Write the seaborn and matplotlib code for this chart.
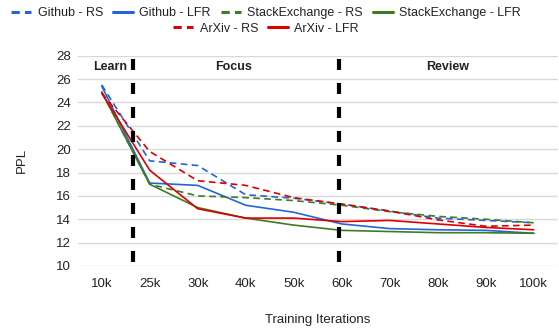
import numpy as np
import pandas as pd
import matplotlib
matplotlib.use("Agg")
import matplotlib.pyplot as plt
import seaborn as sns
from matplotlib.lines import Line2D

iterations = ["10k", "25k", "30k", "40k", "50k", "60k", "70k", "80k", "90k", "100k"]
github_rs = [25.5, 19.0, 18.6, 16.1, 15.8, 15.3, 14.7, 14.1, 13.9, 13.7]
github_lfr = [25.4, 17.1, 16.9, 15.2, 14.6, 13.6, 13.2, 13.1, 13.05, 12.8]
stack_rs = [24.9, 17.0, 16.0, 15.85, 15.6, 15.2, 14.65, 14.25, 14.0, 13.7]
stack_lfr = [24.9, 17.0, 15.0, 14.1, 13.5, 13.05, 12.95, 12.85, 12.85, 12.8]
arxiv_rs = [24.8, 19.8, 17.3, 16.9, 15.85, 15.3, 14.7, 13.95, 13.4, 13.5]
arxiv_lfr = [24.8, 18.2, 14.9, 14.1, 14.1, 13.8, 13.9, 13.6, 13.3, 13.1]

phases = ["Learn", "Focus", "Review"]

series = [
    ("Github", "RS", github_rs),
    ("Github", "LFR", github_lfr),
    ("StackExchange", "RS", stack_rs),
    ("StackExchange", "LFR", stack_lfr),
    ("ArXiv", "RS", arxiv_rs),
    ("ArXiv", "LFR", arxiv_lfr),
]

rows = []
for ds, m, vals in series:
    for i, v in enumerate(vals):
        rows.append({"pos": i, "PPL": v, "dataset": ds, "method": m})
df = pd.DataFrame(rows)

colors = {"Github": "#2266d8", "StackExchange": "#3f7b22", "ArXiv": "#dd0000"}
dash_map = {"RS": (4, 2.6), "LFR": ""}

sns.set_theme(style="white")
plt.rcParams["font.family"] = ["Liberation Sans", "DejaVu Sans"]
txt = "#222222"

fig = plt.figure(figsize=(5.59, 3.29), dpi=100)
ax = fig.add_axes([0.139, 0.1915, 0.8587, 0.6392])

sns.lineplot(data=df, x="pos", y="PPL", hue="dataset", style="method",
             palette=colors, dashes=dash_map, linewidth=1.2, ax=ax,
             legend=False, units=None, estimator=None)

ax.set_xlim(-0.5, len(iterations) - 0.5)
ax.set_ylim(10, 28)
ax.set_yticks(np.arange(10, 29, 2))
ax.set_xticks(range(len(iterations)))
ax.set_xticklabels(iterations)
ax.grid(axis="y", color="#d9d9d9", linewidth=1)
ax.grid(axis="x", visible=False)
ax.set_axisbelow(True)
for s in ax.spines.values():
    s.set_visible(False)
ax.tick_params(axis="both", length=0, labelsize=9.5, colors=txt, pad=9)
ax.tick_params(axis="y", pad=5)
ax.set_xlabel("Training Iterations", fontsize=9.5, color=txt, labelpad=17)
ax.set_ylabel("PPL", fontsize=9.5, color=txt, labelpad=20)

# phase separators, dash pattern starting from the top
for xv in (0.65, 4.95):
    ax.axvline(xv, ymin=0.984, ymax=0.018, color="black", linewidth=3,
               dashes=(2.64, 3.12))

ax.text(0.17, 27.0, phases[0], ha="center", va="center", fontsize=9,
        fontweight="bold", color=txt)
ax.text(2.74, 27.0, phases[1], ha="center", va="center", fontsize=9,
        fontweight="bold", color=txt)
ax.text(7.2, 27.0, phases[2], ha="center", va="center", fontsize=9,
        fontweight="bold", color=txt)

handles = []
labels = []
for ds, m, vals in series:
    ls = (0, (2.7, 1.7)) if m == "RS" else "-"
    handles.append(Line2D([], [], color=colors[ds], linewidth=2.2, linestyle=ls))
    labels.append(f"{ds} - {m}")

leg_kw = dict(frameon=False, fontsize=9, handlelength=1.6, handletextpad=0.5,
              columnspacing=0.8, labelcolor=txt, borderaxespad=0,
              borderpad=0)
leg1 = fig.legend(handles[:4], labels[:4], ncol=4, loc="center",
                  bbox_to_anchor=(0.476, 0.96), **leg_kw)
leg2 = fig.legend(handles[4:], labels[4:], ncol=2, loc="center",
                  bbox_to_anchor=(0.476, 0.913), **leg_kw)

fig.savefig("out.png", dpi=100)
